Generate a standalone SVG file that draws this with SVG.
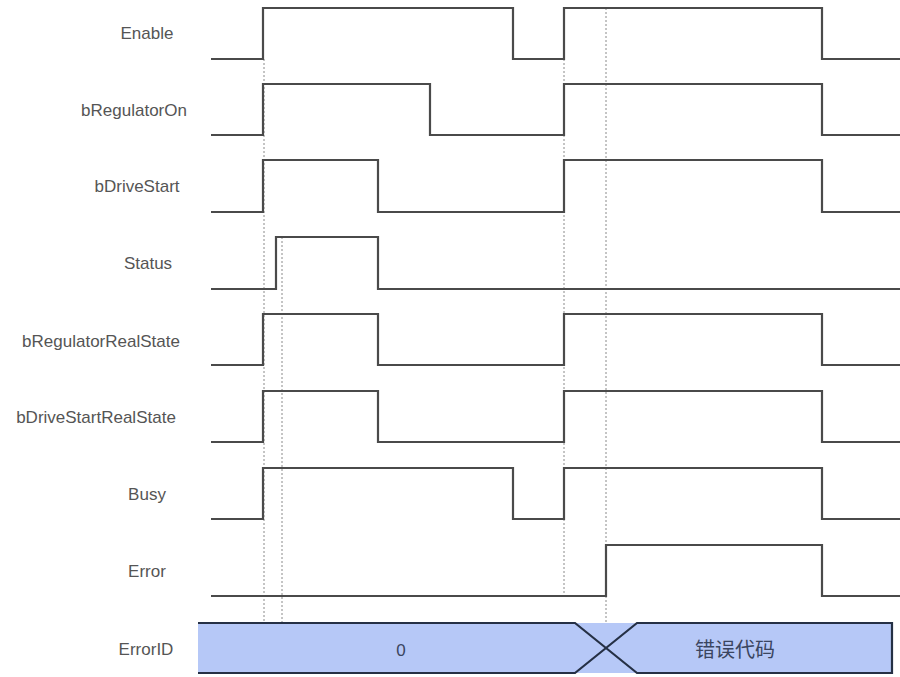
<svg xmlns="http://www.w3.org/2000/svg" width="900" height="677" viewBox="0 0 900 677">
<style>
  .lbl { font-family: "Liberation Sans", Arial, sans-serif; font-size: 17px; fill: #555; text-anchor: middle; }
  .wave { fill: none; stroke: #4a4a4a; stroke-width: 2.2; stroke-linejoin: miter; }
  .guide { fill: none; stroke: #8a8a8a; stroke-width: 1; stroke-dasharray: 2 2; }
  .bus { fill: #b6c8f7; stroke: none; }
  .busline { fill: none; stroke: #253045; stroke-width: 2.2; }
  .val { font-family: "Liberation Sans", Arial, sans-serif; font-size: 17px; fill: #3a4560; text-anchor: middle; }
  .cjk { font-family: "Liberation Sans", "Noto Sans CJK SC", sans-serif; font-size: 20px; fill: #3a4560; text-anchor: middle; }
</style>
<rect width="900" height="677" fill="#ffffff"/>

<g id="guides">
  <line class="guide" x1="264" y1="59" x2="264" y2="623"/>
  <line class="guide" x1="282" y1="237" x2="282" y2="623"/>
  <line class="guide" x1="564" y1="59" x2="564" y2="598"/>
  <line class="guide" x1="606" y1="8" x2="606" y2="648"/>
</g>

<g id="sig-enable">
  <text class="lbl" x="147" y="39">Enable</text>
  <polyline class="wave" points="211,59 263,59 263,8 513,8 513,59 564,59 564,8 822,8 822,59 900,59"/>
</g>
<g id="sig-bRegulatorOn">
  <text class="lbl" x="134" y="116">bRegulatorOn</text>
  <polyline class="wave" points="211,135 263,135 263,84 430,84 430,135 564,135 564,84 822,84 822,135 900,135"/>
</g>
<g id="sig-bDriveStart">
  <text class="lbl" x="137" y="192">bDriveStart</text>
  <polyline class="wave" points="211,212 263,212 263,160 378,160 378,212 564,212 564,160 822,160 822,212 900,212"/>
</g>
<g id="sig-status">
  <text class="lbl" x="148" y="269">Status</text>
  <polyline class="wave" points="211,289 276,289 276,237 378,237 378,289 900,289"/>
</g>
<g id="sig-bRegulatorRealState">
  <text class="lbl" x="101" y="347">bRegulatorRealState</text>
  <polyline class="wave" points="211,365 263,365 263,314 378,314 378,365 564,365 564,314 822,314 822,365 900,365"/>
</g>
<g id="sig-bDriveStartRealState">
  <text class="lbl" x="96" y="423">bDriveStartRealState</text>
  <polyline class="wave" points="211,442 263,442 263,391 378,391 378,442 564,442 564,391 822,391 822,442 900,442"/>
</g>
<g id="sig-busy">
  <text class="lbl" x="147" y="500">Busy</text>
  <polyline class="wave" points="211,519 263,519 263,468 513,468 513,519 564,519 564,468 822,468 822,519 900,519"/>
</g>
<g id="sig-error">
  <text class="lbl" x="147" y="577">Error</text>
  <polyline class="wave" points="211,596 606,596 606,545 822,545 822,596 900,596"/>
</g>
<g id="sig-errorid">
  <text class="lbl" x="146" y="655">ErrorID</text>
  <rect class="bus" x="198" y="623" width="694" height="50"/>
  <polyline class="busline" points="198,623 575,623 637,673 892,673 892,623 637,623 575,673 198,673"/>
  <text class="val" x="401" y="656">0</text>
  <text class="cjk" x="735" y="657">错误代码</text>
</g>
</svg>
